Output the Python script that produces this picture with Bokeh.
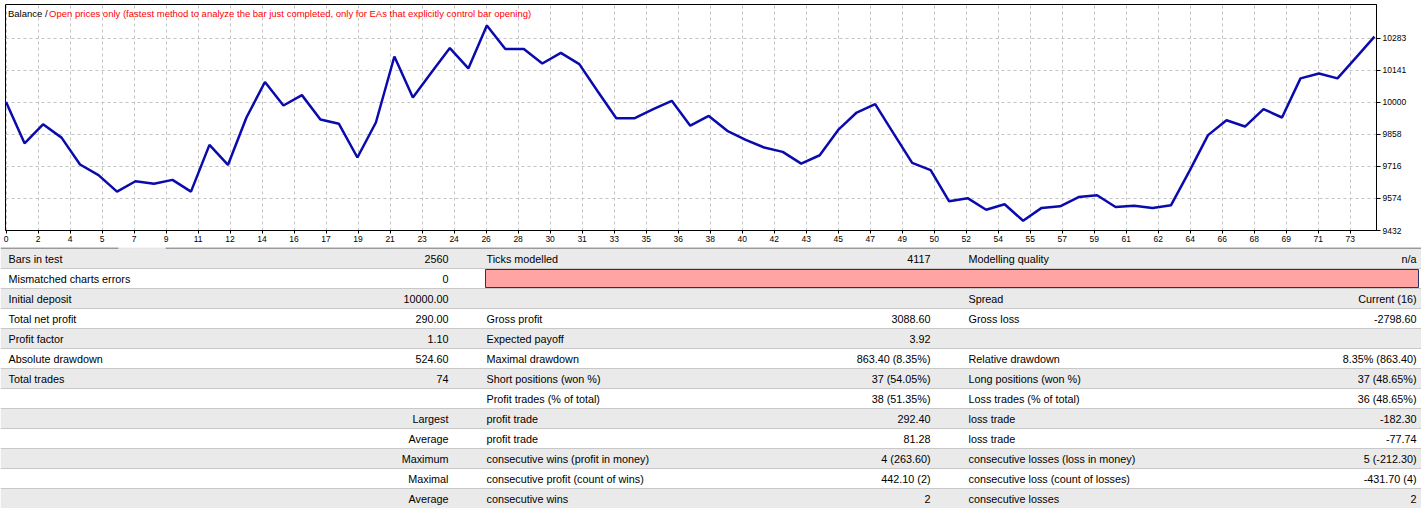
from bokeh.plotting import figure
from bokeh.models import Range1d, FixedTicker, CustomJSTickFormatter, PrintfTickFormatter, Label
from bokeh.layouts import column
from bokeh.core.properties import value
from bokeh.embed import file_html
from bokeh.resources import INLINE

# balance after each trade (trade 0 = initial deposit)
balance = [10000, 9818, 9902, 9843, 9724, 9677, 9604, 9650, 9639, 9656,
           9604, 9811, 9722, 9932, 10089, 9985, 10031, 9923, 9904, 9755,
           9910, 10202, 10020, 10131, 10239, 10149, 10339, 10235, 10235, 10171,
           10218, 10168, 10047, 9929, 9929, 9969, 10006, 9896, 9939, 9873,
           9833, 9799, 9780, 9728, 9765, 9877, 9954, 9991, 9861, 9731,
           9699, 9561, 9575, 9524, 9548, 9475, 9532, 9539, 9580, 9588,
           9536, 9542, 9532, 9544, 9696, 9854, 9920, 9892, 9969, 9932,
           10105, 10127, 10105, 10197, 10290]
trades = list(range(len(balance)))

x_tick_labels = ["0", "2", "4", "5", "7", "9", "11", "12", "14", "16", "17", "19", "21", "23",
                 "24", "26", "28", "30", "31", "33", "35", "36", "38", "40", "42", "43", "45",
                 "47", "49", "50", "52", "54", "55", "57", "59", "61", "62", "64", "66", "68",
                 "69", "71", "73"]
y_ticks = [9432, 9574, 9716, 9858, 10000, 10141, 10283]

title_black = "Balance /"
title_red = ("Open prices only (fastest method to analyze the bar just completed, "
             "only for EAs that explicitly control bar opening)")

# report table: (label1, value1, label2, value2, label3, value3)
rows = [
    ("Bars in test", "2560", "Ticks modelled", "4117", "Modelling quality", "n/a"),
    ("Mismatched charts errors", "0", "", "", "", ""),
    ("Initial deposit", "10000.00", "", "", "Spread", "Current (16)"),
    ("Total net profit", "290.00", "Gross profit", "3088.60", "Gross loss", "-2798.60"),
    ("Profit factor", "1.10", "Expected payoff", "3.92", "", ""),
    ("Absolute drawdown", "524.60", "Maximal drawdown", "863.40 (8.35%)", "Relative drawdown", "8.35% (863.40)"),
    ("Total trades", "74", "Short positions (won %)", "37 (54.05%)", "Long positions (won %)", "37 (48.65%)"),
    ("", "", "Profit trades (% of total)", "38 (51.35%)", "Loss trades (% of total)", "36 (48.65%)"),
    ("Largest", "", "profit trade", "292.40", "loss trade", "-182.30"),
    ("Average", "", "profit trade", "81.28", "loss trade", "-77.74"),
    ("Maximum", "", "consecutive wins (profit in money)", "4 (263.60)", "consecutive losses (loss in money)", "5 (-212.30)"),
    ("Maximal", "", "consecutive profit (count of wins)", "442.10 (2)", "consecutive loss (count of losses)", "-431.70 (4)"),
    ("Average", "", "consecutive wins", "2", "consecutive losses", "2"),
]
right_aligned_first = {"Largest", "Average", "Maximum", "Maximal"}

W = 1421
FONT = "Liberation Sans"

# ---- balance chart ----
tick_step = 1.7307
x_ticks = [k * tick_step for k in range(len(x_tick_labels))]

p = figure(width=W, height=247, x_range=Range1d(-0.03, 74.11), y_range=Range1d(9432, 10432),
           y_axis_location="right", toolbar_location=None, output_backend="svg",
           min_border_left=5, min_border_right=45, min_border_top=4, min_border_bottom=17)
p.outline_line_color = "black"
p.background_fill_color = "white"
p.border_fill_color = "white"

p.xaxis.ticker = FixedTicker(ticks=x_ticks)
p.xaxis.formatter = CustomJSTickFormatter(args=dict(labels=x_tick_labels), code="return labels[index] || ''")
p.yaxis.ticker = FixedTicker(ticks=y_ticks)
p.yaxis.formatter = PrintfTickFormatter(format="%d")
for ax in (p.xaxis, p.yaxis):
    ax.axis_line_color = "black"
    ax.major_tick_line_color = "black"
    ax.minor_tick_line_color = None
    ax.major_tick_in = 0
    ax.major_label_text_font = FONT
    ax.major_label_text_font_size = "8.5px"
    ax.major_label_text_color = "black"
p.xaxis.major_tick_out = 3
p.xaxis.major_label_standoff = 2
p.xaxis.major_label_text_align = "right"
p.yaxis.major_tick_out = 4
p.yaxis.major_label_standoff = 2

p.grid.grid_line_color = "#c4c4c4"
p.grid.grid_line_dash = "3 3"
p.grid.grid_line_width = 1

p.line(trades, balance, line_color="#0b0bad", line_width=2.5)

p.add_layout(Label(x=-0.03, y=10432, x_offset=2.5, y_offset=-9, text=title_black,
                   text_font=FONT, text_font_size="9.5px", text_color="black", text_baseline="middle"))
p.add_layout(Label(x=-0.03, y=10432, x_offset=43.5, y_offset=-9, text=title_red,
                   text_font=FONT, text_font_size="9.5px", text_color="#ff0000", text_baseline="middle"))

# ---- report table ----
ROW_H = 20
TOP = 1
H = TOP + ROW_H * len(rows)
col_x = [8, 448, 486, 930, 968, 1416]

t = figure(width=W, height=H, x_range=Range1d(0, W), y_range=Range1d(H, 0),
           x_axis_type=None, y_axis_type=None, toolbar_location=None, output_backend="svg",
           min_border=0)
t.grid.visible = False
t.outline_line_color = None
t.background_fill_color = "white"
t.border_fill_color = "white"

tops = [TOP + ROW_H * i for i in range(len(rows))]
bots = [tp + ROW_H for tp in tops]
fills = ["#eaeaea" if i % 2 == 0 else "white" for i in range(len(rows))]
t.quad(left=0, right=W, top=tops, bottom=bots, fill_color=fills, line_color=None)
t.segment(x0=0, x1=W, y0=bots, y1=bots, line_color="#c8c8c8", line_width=1)

# strip line above table
t.segment(x0=[0, 165], x1=[118, W], y0=[0.5, 0.5], y1=[0.5, 0.5], line_color="#404040", line_width=1.2)
t.segment(x0=[118], x1=[165], y0=[0.5], y1=[0.5], line_color="#d8d8d8", line_width=1.2)

# modelling quality bar
t.quad(left=485, right=1418, top=tops[1] + 1, bottom=bots[1] - 1,
       fill_color="#ffa3a3", line_color="#24306a", line_width=1)

lx, ly, lt, rx, ry, rt = [], [], [], [], [], []
for i, r in enumerate(rows):
    yc = tops[i] + ROW_H / 2
    for c, txt in enumerate(r):
        if not txt:
            continue
        if c == 0 and txt in right_aligned_first:
            rx.append(col_x[1]); ry.append(yc); rt.append(txt)
        elif c % 2 == 0:
            lx.append(col_x[c]); ly.append(yc); lt.append(txt)
        else:
            rx.append(col_x[c]); ry.append(yc); rt.append(txt)

t.text(x=lx, y=ly, text=lt, text_font=value(FONT), text_font_size="10.8px", text_color="black",
       text_align="left", text_baseline="middle")
t.text(x=rx, y=ry, text=rt, text_font=value(FONT), text_font_size="10.8px", text_color="black",
       text_align="right", text_baseline="middle")

# wrap the table on its own so its frame is not aligned with the chart frame
layout = column(p, column(t, spacing=0), spacing=0)
open("out.html", "w").write(file_html(layout, INLINE))
